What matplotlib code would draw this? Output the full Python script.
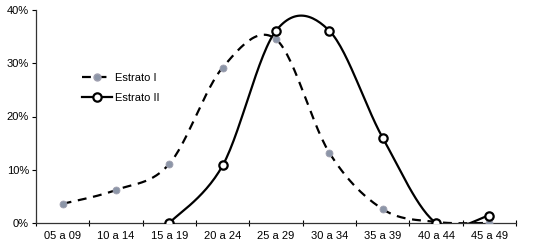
import numpy as np
import matplotlib
matplotlib.use("Agg")
import matplotlib.pyplot as plt
from matplotlib.ticker import FuncFormatter

plt.rcParams['font.family'] = ['Liberation Sans', 'DejaVu Sans']

categories = ["05 a 09", "10 a 14", "15 a 19", "20 a 24", "25 a 29",
              "30 a 34", "35 a 39", "40 a 44", "45 a 49"]
estrato_1 = [3.6, 6.2, 11.1, 29.2, 34.5, 13.2, 2.6, 0.2, 0.0]
# Estrato II starts at 15 a 19
estrato_2_cats = categories[2:]
estrato_2 = [0.0, 10.8, 36.1, 36.1, 16.0, 0.0, 1.4]


def smooth(x, y, n=30):
    # Excel-like smoothed line (Catmull-Rom through the points)
    x = np.asarray(x, float)
    y = np.asarray(y, float)
    px = np.concatenate([[x[0]], x, [x[-1]]])
    py = np.concatenate([[y[0]], y, [y[-1]]])
    xs, ys = [], []
    for i in range(1, len(px) - 2):
        p0 = np.array([px[i], py[i]])
        p3 = np.array([px[i + 1], py[i + 1]])
        c1 = p0 + (np.array([px[i + 1], py[i + 1]]) - np.array([px[i - 1], py[i - 1]])) / 6
        c2 = p3 - (np.array([px[i + 2], py[i + 2]]) - np.array([px[i], py[i]])) / 6
        t = np.linspace(0, 1, n)[:, None]
        pts = (1 - t) ** 3 * p0 + 3 * (1 - t) ** 2 * t * c1 + 3 * (1 - t) * t ** 2 * c2 + t ** 3 * p3
        xs.extend(pts[:, 0])
        ys.extend(pts[:, 1])
    return np.array(xs), np.array(ys)


fig = plt.figure(figsize=(5.35, 2.46), dpi=100)

# dotted paper background
bg = fig.add_axes([0, 0, 1, 1], zorder=-10)
gx, gy = np.meshgrid(np.arange(2, 535, 6), np.arange(2, 246, 6))
bg.scatter(gx.ravel(), gy.ravel(), s=0.35, c='#f4d6e2', marker='s', linewidths=0)
bg.set_xlim(0, 535)
bg.set_ylim(0, 246)
bg.axis('off')

ax = fig.add_axes([36 / 535, 1 - 223 / 246, 480 / 535, 213 / 246])
ax.patch.set_alpha(0)

x1 = np.arange(len(categories))
x2 = np.arange(2, len(categories))

sx, sy = smooth(x1, estrato_1)
ax.plot(sx, sy, color='black', lw=1.6, ls=(0, (4, 3)), zorder=2)
ax.plot(x1, estrato_1, ls='none', marker='o', ms=5, mfc='#8c96a8', mec='#a0a0b0', mew=0.6, zorder=3)

sx, sy = smooth(x2, estrato_2)
ax.plot(sx, sy, color='black', lw=1.6, zorder=4)
ax.plot(x2, estrato_2, ls='none', marker='o', ms=6, mfc='white', mec='black', mew=1.6, zorder=5)

# legend handles
ax.plot([], [], color='black', lw=1.6, ls=(0, (4, 3)), marker='o', ms=5,
        mfc='#8c96a8', mec='#a0a0b0', label='Estrato I')
ax.plot([], [], color='black', lw=1.6, marker='o', ms=6, mfc='white',
        mec='black', mew=1.6, label='Estrato II')
ax.legend(loc='upper left', bbox_to_anchor=(0.075, 0.75), frameon=False,
          fontsize=8, handlelength=2.7, handletextpad=0.3, labelspacing=0.85)

ax.set_xlim(-0.5, len(categories) - 0.5)
ax.set_ylim(0, 40)
ax.set_yticks([0, 10, 20, 30, 40])
ax.yaxis.set_major_formatter(FuncFormatter(lambda v, p: f"{v:.0f}%"))
ax.set_xticks(x1)
ax.set_xticklabels(categories)
ax.set_xticks(np.arange(-0.5, len(categories), 1), minor=True)
ax.tick_params(axis='x', which='major', length=0, labelsize=8, pad=6)
ax.tick_params(axis='x', which='minor', length=4, direction='inout', width=0.8)
ax.tick_params(axis='y', length=3, width=0.8, labelsize=8, pad=2)
for s in ['top', 'right']:
    ax.spines[s].set_visible(False)
for s in ['left', 'bottom']:
    ax.spines[s].set_linewidth(0.9)
    ax.spines[s].set_color('#333333')

fig.savefig("out.png", dpi=100)
